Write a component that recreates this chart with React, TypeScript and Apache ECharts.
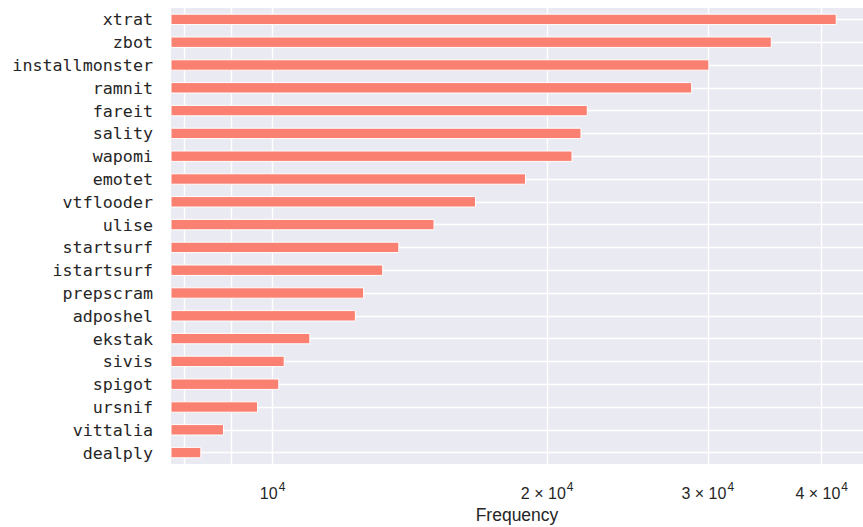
import React, { useEffect, useRef } from 'react';
import * as echarts from 'echarts';

const categories = [
  'xtrat', 'zbot', 'installmonster', 'ramnit', 'fareit', 'sality', 'wapomi', 'emotet',
  'vtflooder', 'ulise', 'startsurf', 'istartsurf', 'prepscram', 'adposhel', 'ekstak',
  'sivis', 'spigot', 'ursnif', 'vittalia', 'dealply',
];
const frequencies = [
  41540, 35260, 30120, 28840, 22160, 21810, 21320, 18960,
  16710, 15050, 13770, 13220, 12600, 12340, 11000,
  10310, 10170, 9640, 8845, 8354,
];
const gridValues = [8000, 9000, 10000, 20000, 30000, 40000];
const tickValues = [10000, 20000, 30000, 40000];
const tickBases = ['10', '2 × 10', '3 × 10', '4 × 10'];
const tickExps = ['4', '4', '4', '4'];
const xMin = 7738;
const xMax = 44390;

const TEXT = '#262626';
const SANS = 'Liberation Sans';

export default function App() {
  const ref = useRef<HTMLDivElement>(null);
  useEffect(() => {
    if (!ref.current) return;
    const chart = echarts.init(ref.current, null, { renderer: 'svg' });
    const tickLabel = (v: number) => {
      const i = tickValues.indexOf(v);
      if (i < 0) return { show: false };
      return {
        show: true, position: 'end', distance: 17,
        fontSize: 16, fontFamily: SANS, color: TEXT, lineHeight: 20,
        formatter: `{b|${tickBases[i]}}{s|${tickExps[i]}}`,
        rich: {
          b: { fontSize: 16, fontFamily: SANS, color: TEXT, verticalAlign: 'bottom', lineHeight: 20 },
          s: { fontSize: 12, fontFamily: SANS, color: TEXT, verticalAlign: 'top', lineHeight: 4, padding: [0, 0, 0, 1] },
        },
      };
    };
    chart.setOption({
      animation: false,
      grid: {
        left: 171, right: 0, top: 8, bottom: 63,
        show: true, backgroundColor: '#EAEAF2', borderWidth: 0,
        outerBoundsMode: 'none', containLabel: false,
      },
      xAxis: {
        type: 'log', min: xMin, max: xMax,
        axisLine: { show: false }, axisTick: { show: false },
        axisLabel: { show: false }, splitLine: { show: false },
        name: 'Frequency', nameLocation: 'middle', nameGap: 42,
        nameTextStyle: { fontSize: 17.5, color: TEXT, fontFamily: SANS },
      },
      yAxis: {
        type: 'category', data: categories, inverse: true,
        axisLine: { show: false }, axisTick: { show: false }, splitLine: { show: false },
        axisLabel: { fontFamily: 'DejaVu Sans Mono', fontSize: 16.7, color: TEXT, margin: 18 },
      },
      series: [
        {
          type: 'bar', data: frequencies, barWidth: '50%', z: 3, clip: true,
          itemStyle: { color: '#FA8072', borderColor: '#ffffff', borderWidth: 1 },
          emphasis: { disabled: true },
          markLine: {
            silent: true, z: 1, symbol: ['none', 'none'],
            label: { show: false },
            lineStyle: { color: '#ffffff', width: 1.4, type: 'solid' },
            emphasis: { disabled: true },
            data: [
              ...gridValues.map((v) => ({ xAxis: v, label: tickLabel(v) })),
              ...categories.map((c) => ({ yAxis: c })),
            ],
          },
        },
      ],
    });
    return () => chart.dispose();
  }, []);
  return <div ref={ref} style={{ position: 'absolute', left: 0, top: 0, width: 863, height: 527 }} />;
}
